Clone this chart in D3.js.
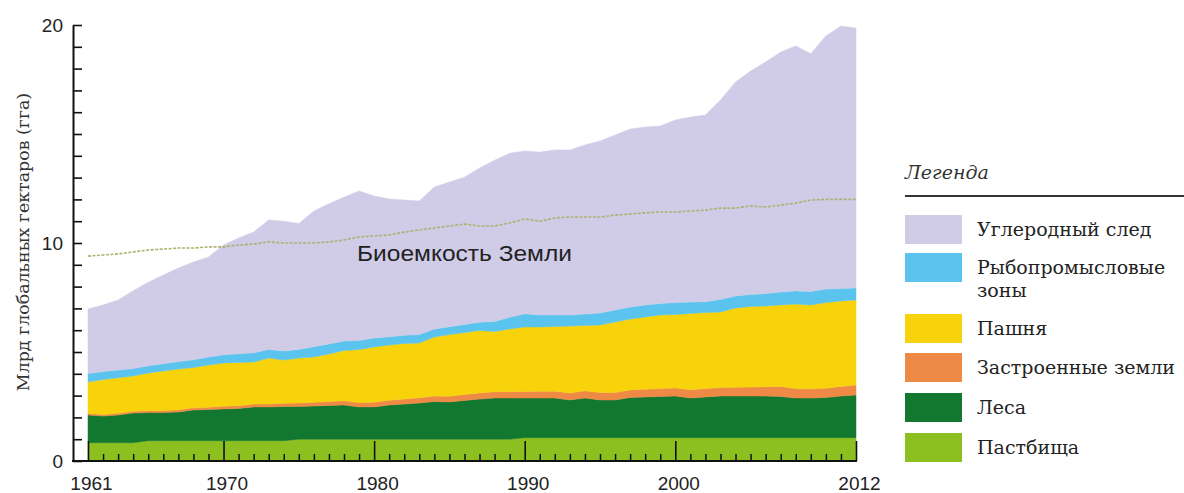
<!DOCTYPE html>
<html><head><meta charset="utf-8">
<script src="https://cdn.jsdelivr.net/npm/d3@7"></script>
<style>
html,body{margin:0;padding:0;background:#fff;}
svg{display:block;}
</style></head>
<body>
<svg id="chart" width="1184" height="493"></svg>
<script>
const years = d3.range(1961, 2013);
const grazing = [0.84,0.84,0.84,0.84,0.93,0.93,0.93,0.93,0.93,0.93,0.93,0.93,0.93,0.93,1.0,1.0,1.0,1.0,1.0,1.0,1.0,1.0,1.0,1.0,1.0,1.0,1.0,1.0,1.0,1.07,1.07,1.07,1.07,1.07,1.07,1.07,1.07,1.07,1.07,1.07,1.07,1.07,1.07,1.07,1.07,1.07,1.07,1.07,1.07,1.07,1.07,1.07];
const forest = [1.27,1.22,1.27,1.36,1.29,1.29,1.32,1.41,1.43,1.46,1.48,1.55,1.55,1.57,1.5,1.52,1.55,1.57,1.48,1.48,1.57,1.61,1.66,1.73,1.71,1.78,1.84,1.89,1.89,1.82,1.82,1.82,1.73,1.82,1.73,1.73,1.84,1.87,1.89,1.91,1.82,1.87,1.91,1.91,1.91,1.91,1.89,1.82,1.82,1.84,1.91,1.96];
const builtUp = [0.07,0.07,0.08,0.08,0.09,0.09,0.1,0.1,0.11,0.12,0.13,0.13,0.14,0.15,0.16,0.17,0.18,0.19,0.2,0.21,0.22,0.23,0.24,0.25,0.26,0.27,0.28,0.29,0.29,0.3,0.31,0.31,0.32,0.33,0.34,0.34,0.35,0.35,0.36,0.37,0.38,0.38,0.39,0.4,0.41,0.43,0.46,0.43,0.42,0.43,0.44,0.46];
const cropland = [1.44,1.61,1.63,1.62,1.73,1.82,1.87,1.85,1.93,1.99,1.98,1.93,2.1,1.98,2.06,2.08,2.18,2.31,2.43,2.54,2.53,2.55,2.51,2.71,2.83,2.84,2.87,2.76,2.88,2.96,2.95,2.97,3.07,3.0,3.1,3.24,3.25,3.32,3.38,3.37,3.5,3.49,3.46,3.64,3.7,3.7,3.74,3.88,3.85,3.93,3.92,3.9];
const fishing = [0.39,0.36,0.35,0.34,0.33,0.33,0.34,0.35,0.37,0.37,0.4,0.42,0.4,0.42,0.4,0.47,0.46,0.43,0.42,0.41,0.38,0.38,0.39,0.36,0.36,0.37,0.38,0.46,0.53,0.6,0.55,0.53,0.51,0.52,0.55,0.55,0.55,0.55,0.52,0.55,0.52,0.5,0.58,0.55,0.55,0.57,0.59,0.6,0.62,0.62,0.57,0.55];
const carbon = [2.96,3.06,3.22,3.57,3.83,4.07,4.29,4.49,4.59,5.04,5.31,5.54,5.94,5.95,5.78,6.23,6.43,6.6,6.86,6.52,6.32,6.2,6.13,6.52,6.64,6.76,7.07,7.4,7.53,7.47,7.47,7.57,7.57,7.76,7.89,8.02,8.17,8.16,8.15,8.37,8.49,8.56,9.15,9.82,10.25,10.62,11.01,11.24,10.9,11.61,12.04,11.92];
const biocapacity = [9.4,9.45,9.5,9.59,9.68,9.72,9.77,9.77,9.82,9.82,9.91,9.95,10.05,10.0,10.0,10.0,10.05,10.14,10.28,10.32,10.37,10.5,10.6,10.69,10.78,10.87,10.78,10.78,10.92,11.1,11.0,11.15,11.19,11.19,11.19,11.28,11.33,11.38,11.42,11.42,11.47,11.51,11.6,11.6,11.7,11.65,11.74,11.83,11.97,12.0,12.0,12.0];

const seriesKeys = ["grazing","forest","builtUp","cropland","fishing","carbon"];
const seriesData = {grazing, forest, builtUp, cropland, fishing, carbon};
const seriesColors = {grazing:"#8cc021", forest:"#13782f", builtUp:"#ee8a45", cropland:"#f8d30c", fishing:"#5bc4ee", carbon:"#d0cce8"};
const legendItems = [
  {key:"carbon", lines:["Углеродный след"]},
  {key:"fishing", lines:["Рыбопромысловые","зоны"]},
  {key:"cropland", lines:["Пашня"]},
  {key:"builtUp", lines:["Застроенные земли"]},
  {key:"forest", lines:["Леса"]},
  {key:"grazing", lines:["Пастбища"]}
];
const yLabelTicks = [0,10,20];
const xLabelTicks = [1961,1970,1980,1990,2000,2012];
const yTitle = "Млрд глобальных гектаров (гга)";
const bioLabel = "Биоемкость Земли";
const legendTitle = "Легенда";

const svg = d3.select("#chart");
const x = d3.scaleLinear().domain([1961,2012]).range([88,856]);
const y = d3.scaleLinear().domain([0,20]).range([461,25]);

const table = years.map((yr,i)=>{
  const o = {year: yr};
  seriesKeys.forEach(k=>o[k]=seriesData[k][i]);
  return o;
});
const stack = d3.stack().keys(seriesKeys)(table);
const area = d3.area().x(d=>x(d.data.year)).y0(d=>y(d[0])).y1(d=>y(d[1]));

svg.append("g").selectAll("path").data(stack).join("path")
  .attr("d", area).attr("fill", d=>seriesColors[d.key]).attr("stroke", d=>seriesColors[d.key]).attr("stroke-width",0.5);

// biocapacity dashed line
const line = d3.line().x((d,i)=>x(years[i])).y(d=>y(d));
svg.append("path").datum(biocapacity).attr("d", line)
  .attr("fill","none").attr("stroke","#b0b070").attr("stroke-width",1.6).attr("stroke-dasharray","3,1.5");

svg.append("text").attr("x", 357).attr("y", 261)
  .attr("font-family","Liberation Sans, Arial, sans-serif").attr("font-size",21.5).attr("fill","#222")
  .attr("textLength",215).attr("lengthAdjust","spacingAndGlyphs")
  .text(bioLabel);

// Y axis
const yAxis = svg.append("g").attr("transform","translate(73,0)")
  .call(d3.axisRight(y).tickValues(d3.range(0,21)).tickSize(9).tickSizeOuter(0).tickFormat(""));
yAxis.select(".domain").attr("stroke","#111").attr("stroke-width",2);
yAxis.selectAll(".tick line").attr("stroke","#111").attr("stroke-width",1.6);

const yLab = svg.append("g").attr("transform","translate(73,0)")
  .call(d3.axisLeft(y).tickValues(yLabelTicks).tickSize(0).tickPadding(10).tickFormat(d3.format("d")));
yLab.select(".domain").remove();
yLab.selectAll("text").attr("font-family","Liberation Sans, Arial, sans-serif").attr("font-size",19).attr("fill","#222");

// X axis
const xMinor = years.filter(v=>!xLabelTicks.includes(v));
const xa1 = svg.append("g").attr("transform","translate(0,461)")
  .call(d3.axisTop(x).tickValues(xMinor).tickSize(7).tickSizeOuter(0).tickFormat(""));
xa1.select(".domain").remove();
xa1.selectAll(".tick line").attr("stroke","#111").attr("stroke-width",1.5);
const xa2 = svg.append("g").attr("transform","translate(0,461)")
  .call(d3.axisTop(x).tickValues(xLabelTicks).tickSize(20).tickSizeOuter(0).tickFormat(""));
xa2.select(".domain").remove();
xa2.selectAll(".tick line").attr("stroke","#111").attr("stroke-width",1.6);
svg.append("line").attr("x1",72).attr("x2",x(2012)+1).attr("y1",461).attr("y2",461)
  .attr("stroke","#111").attr("stroke-width",2.2);
const xLab = svg.append("g").attr("transform","translate(3,461)")
  .call(d3.axisBottom(x).tickValues(xLabelTicks).tickSize(0).tickPadding(16).tickFormat(d3.format("d")));
xLab.select(".domain").remove();
xLab.selectAll("text").attr("font-family","Liberation Sans, Arial, sans-serif").attr("font-size",19).attr("fill","#222");

// Y title
svg.append("text").attr("transform","translate(29,242) rotate(-90)").attr("text-anchor","middle")
  .attr("font-family","DejaVu Serif, serif").attr("font-size",17.4).attr("fill","#333")
  .text(yTitle);

// Legend
const lg = svg.append("g");
lg.append("text").attr("x",905).attr("y",179).attr("font-family","DejaVu Serif, serif")
  .attr("font-style","italic").attr("font-size",19).attr("fill","#333").text(legendTitle);
lg.append("line").attr("x1",905).attr("x2",1184).attr("y1",196).attr("y2",196).attr("stroke","#333").attr("stroke-width",2);
const swY = [215,253,314,353,393,433];
legendItems.forEach((it,i)=>{
  lg.append("rect").attr("x",905).attr("y",swY[i]).attr("width",57).attr("height",29).attr("fill",seriesColors[it.key]);
  it.lines.forEach((t,j)=>{
    lg.append("text").attr("x",977).attr("y",swY[i]+21+j*23).attr("font-family","DejaVu Serif, serif")
      .attr("font-size",19).attr("fill","#222").text(t);
  });
});
</script>
</body></html>
